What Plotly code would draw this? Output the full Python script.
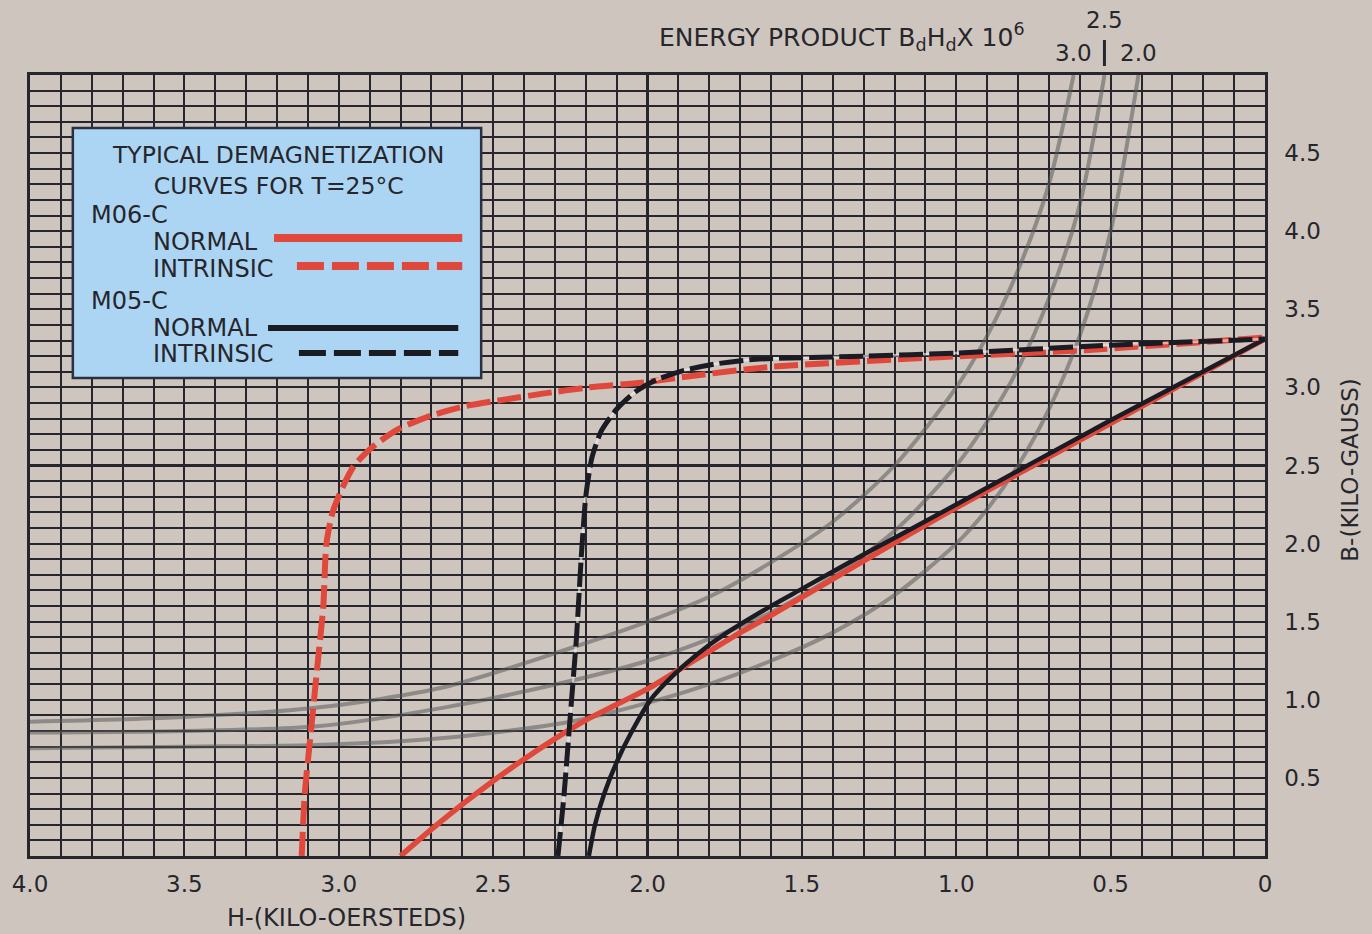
import plotly.graph_objects as go

# ---------------- data ----------------
# Energy-product contours BdHd x 10^6 (gray curves)
ep_labels = ["3.0", "2.5", "2.0"]
ep30_h = [4.0, 3.5, 3.07, 2.66, 2.25, 2.0, 1.8, 1.6, 1.4, 1.2, 1.0, 0.9, 0.8, 0.7, 0.62]
ep30_b = [0.86, 0.89, 0.95, 1.08, 1.33, 1.5, 1.66, 1.88, 2.14, 2.5, 3.0, 3.33, 3.75, 4.3, 5.0]
ep25_h = [4.0, 3.5, 3.07, 2.66, 2.25, 2.0, 1.8, 1.6, 1.4, 1.2, 1.0, 0.9, 0.8, 0.7, 0.6, 0.52]
ep25_b = [0.79, 0.80, 0.83, 0.95, 1.12, 1.25, 1.39, 1.56, 1.79, 2.08, 2.5, 2.78, 3.12, 3.57, 4.17, 5.0]
ep20_h = [4.0, 3.5, 3.07, 2.66, 2.25, 2.0, 1.8, 1.6, 1.4, 1.2, 1.0, 0.9, 0.8, 0.7, 0.6, 0.5, 0.41]
ep20_b = [0.69, 0.70, 0.71, 0.755, 0.86, 0.98, 1.10, 1.25, 1.43, 1.67, 2.0, 2.22, 2.5, 2.86, 3.33, 4.0, 5.0]

# M06-C
m06_normal_h = [2.80, 2.70, 2.60, 2.50, 2.40, 2.30, 2.20, 2.10, 2.0, 1.9, 1.8, 1.7, 1.6, 1.3, 1.0, 0.5, 0.0]
m06_normal_b = [0.0, 0.17, 0.33, 0.48, 0.62, 0.75, 0.87, 0.97, 1.07, 1.19, 1.31, 1.43, 1.54, 1.89, 2.23, 2.77, 3.31]
m06_intr_h = [3.12, 3.11, 3.09, 3.07, 3.05, 3.04, 3.02, 2.99, 2.95, 2.89, 2.81, 2.70, 2.59,
              2.47, 2.34, 2.19, 2.02, 1.87, 1.61, 1.09, 0.57, 0.0]
m06_intr_b = [0.0, 0.4, 0.8, 1.2, 1.6, 2.0, 2.2, 2.35, 2.5, 2.62, 2.73, 2.82, 2.88,
              2.92, 2.96, 3.0, 3.03, 3.07, 3.13, 3.19, 3.24, 3.32]

# M05-C
m05_normal_h = [2.19, 2.17, 2.14, 2.10, 2.05, 1.99, 1.92, 1.84, 1.75, 1.6, 1.5, 1.3, 1.0, 0.5, 0.0]
m05_normal_b = [0.0, 0.2, 0.4, 0.6, 0.8, 1.0, 1.15, 1.29, 1.42, 1.6, 1.71, 1.93, 2.25, 2.79, 3.31]
m05_intr_h = [2.29, 2.27, 2.25, 2.23, 2.215, 2.20, 2.18, 2.15, 2.10, 2.04, 1.97, 1.88, 1.78,
              1.65, 1.3, 1.0, 0.5, 0.0]
m05_intr_b = [0.0, 0.4, 0.9, 1.4, 1.9, 2.3, 2.55, 2.72, 2.86, 2.97, 3.05, 3.11, 3.15,
              3.18, 3.2, 3.22, 3.27, 3.31]

x_tick_vals = [4.0, 3.5, 3.0, 2.5, 2.0, 1.5, 1.0, 0.5, 0.0]
x_tick_text = ["4.0", "3.5", "3.0", "2.5", "2.0", "1.5", "1.0", "0.5", "0"]
y_tick_vals = [0.5, 1.0, 1.5, 2.0, 2.5, 3.0, 3.5, 4.0, 4.5]
y_tick_text = ["0.5", "1.0", "1.5", "2.0", "2.5", "3.0", "3.5", "4.0", "4.5"]

# ---------------- styling ----------------
BG = "#cec6be"
INK = "#26262c"
RED = "#e0483c"
BLK = "#1b1b24"
GRAY = "rgba(90,90,90,0.55)"
FONT = "DejaVu Sans"

fig = go.Figure()

for h, b in [(ep30_h, ep30_b), (ep25_h, ep25_b), (ep20_h, ep20_b)]:
    fig.add_trace(go.Scatter(x=h, y=b, mode="lines", line=dict(color=GRAY, width=4, shape="spline", smoothing=0.8),
                             hoverinfo="skip", showlegend=False))

fig.add_trace(go.Scatter(x=m06_normal_h, y=m06_normal_b, mode="lines",
                         line=dict(color=RED, width=5.5, shape="spline", smoothing=0.7), showlegend=False))
fig.add_trace(go.Scatter(x=m05_normal_h, y=m05_normal_b, mode="lines",
                         line=dict(color=BLK, width=4.5, shape="spline", smoothing=0.7), showlegend=False))
fig.add_trace(go.Scatter(x=m06_intr_h, y=m06_intr_b, mode="lines",
                         line=dict(color=RED, width=6, dash="24px,7px", shape="spline", smoothing=0.6),
                         showlegend=False))
fig.add_trace(go.Scatter(x=m05_intr_h, y=m05_intr_b, mode="lines",
                         line=dict(color="rgba(240,240,240,0.6)", width=2.5, shape="spline", smoothing=0.6),
                         hoverinfo="skip", showlegend=False))
fig.add_trace(go.Scatter(x=m05_intr_h, y=m05_intr_b, mode="lines",
                         line=dict(color=BLK, width=5, dash="24px,6px", shape="spline", smoothing=0.6),
                         showlegend=False))

shapes = []
# heavier centre grid lines
shapes.append(dict(type="line", xref="x", yref="paper", x0=2.0, x1=2.0, y0=0, y1=1,
                   line=dict(color=INK, width=3), layer="below"))
shapes.append(dict(type="line", xref="paper", yref="y", x0=0, x1=1, y0=2.5, y1=2.5,
                   line=dict(color=INK, width=3), layer="below"))

# legend box (paper coords computed from pixel positions)
W, H = 1372, 934
L, R, T, B = 25, 107, 75, 78
pw, ph = W - L - R, H - T - B


def px(xp):
    return (xp - L) / pw


def py(yp):
    return (H - B - yp) / ph


shapes.append(dict(type="rect", xref="paper", yref="paper", x0=px(68), x1=px(478), y0=py(378), y1=py(128),
                   fillcolor="#acd5f3", line=dict(color="#2a3040", width=2.5), layer="above"))
shapes.append(dict(type="line", xref="paper", yref="paper", x0=px(270), x1=px(459), y0=py(238), y1=py(238),
                   line=dict(color=RED, width=8), layer="above"))
shapes.append(dict(type="line", xref="paper", yref="paper", x0=px(293), x1=px(459), y0=py(266), y1=py(266),
                   line=dict(color=RED, width=8, dash="27px,8px"), layer="above"))
shapes.append(dict(type="line", xref="paper", yref="paper", x0=px(264), x1=px(455), y0=py(328), y1=py(328),
                   line=dict(color=BLK, width=6), layer="above"))
shapes.append(dict(type="line", xref="paper", yref="paper", x0=px(295), x1=px(455), y0=py(353), y1=py(353),
                   line=dict(color=BLK, width=6, dash="27px,8px"), layer="above"))
# small bar under "2.5"
shapes.append(dict(type="line", xref="x", yref="paper", x0=ep25_h[-1], x1=ep25_h[-1], y0=py(66), y1=py(40),
                   line=dict(color=INK, width=3)))

annotations = []


def txt(text, xp, yp, size=24, xanchor="left"):
    annotations.append(dict(text=text, xref="paper", yref="paper", x=px(xp), y=py(yp), showarrow=False,
                            xanchor=xanchor, yanchor="middle", font=dict(family=FONT, size=size, color=INK)))


txt("TYPICAL DEMAGNETIZATION<br>CURVES FOR T=25°C", 274, 170, size=23.5, xanchor="center")
txt("M06-C", 84, 215)
txt("NORMAL", 146, 242)
txt("INTRINSIC", 146, 269)
txt("M05-C", 84, 301)
txt("NORMAL", 146, 328)
txt("INTRINSIC", 146, 354)

txt("ENERGY PRODUCT B<sub>d</sub>H<sub>d</sub>X 10<sup>6</sup>", 655, 37, size=25)
txt("H-(KILO-OERSTEDS)", 343, 918, size=24, xanchor="center")
annotations.append(dict(text="B-(KILO-GAUSS)", xref="paper", yref="paper", x=px(1350), y=py(470),
                        textangle=-90, showarrow=False, xanchor="center", yanchor="middle",
                        font=dict(family=FONT, size=23, color=INK)))

for lab, hx, ypix in [(ep_labels[0], ep30_h[-1], 53), (ep_labels[1], ep25_h[-1], 20), (ep_labels[2], ep20_h[-1], 53)]:
    annotations.append(dict(text=lab, xref="x", yref="paper", x=hx, y=py(ypix), showarrow=False,
                            xanchor="center", yanchor="middle", font=dict(family=FONT, size=23, color=INK)))

grid = dict(showgrid=True, gridcolor=INK, gridwidth=1.6)

fig.update_layout(
    width=W, height=H,
    margin=dict(l=L, r=R, t=T, b=B),
    paper_bgcolor=BG, plot_bgcolor=BG,
    shapes=shapes, annotations=annotations,
    font=dict(family=FONT, color=INK),
    xaxis=dict(range=[4.0, 0.0], tickvals=x_tick_vals, ticktext=x_tick_text,
               tickfont=dict(size=23, color=INK), ticks="", ticklabelstandoff=6,
               showline=True, linecolor=INK, linewidth=2.5, mirror=True, zeroline=False,
               minor=dict(dtick=0.1, tick0=0, showgrid=True, gridcolor=INK, gridwidth=1.6), **grid),
    yaxis=dict(range=[0.0, 5.0], side="right", tickvals=y_tick_vals, ticktext=y_tick_text,
               tickfont=dict(size=23, color=INK), ticks="", ticklabelstandoff=12,
               showline=True, linecolor=INK, linewidth=2.5, mirror=True, zeroline=False,
               minor=dict(dtick=0.1, tick0=0, showgrid=True, gridcolor=INK, gridwidth=1.6), **grid),
)

fig.write_html("out.html", config={"displayModeBar": False},
               post_script="document.body.style.margin='0';document.body.style.overflow='hidden';")
